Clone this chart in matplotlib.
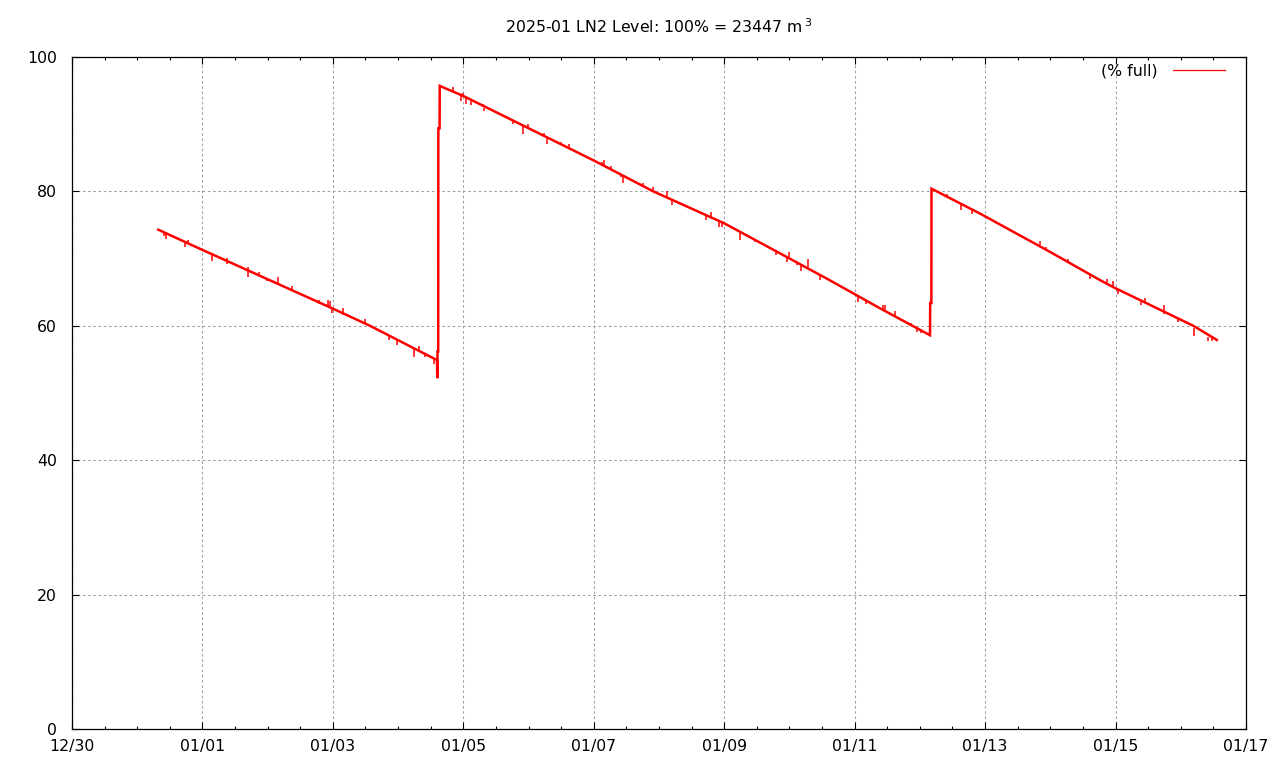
import matplotlib
matplotlib.use("Agg")
import matplotlib.pyplot as plt
from matplotlib.lines import Line2D
from matplotlib.ticker import MultipleLocator, FixedLocator, FixedFormatter

# time axis in days since 2024-12-30 00:00
tick_days = [0, 2, 4, 6, 8, 10, 12, 14, 16, 18]
tick_labels = ["12/30", "01/01", "01/03", "01/05", "01/07",
               "01/09", "01/11", "01/13", "01/15", "01/17"]

# LN2 level (% full): slow boil-off with two refills
level_days = [1.323, 1.998, 3.990, 4.569, 5.596,
              5.601, 5.604, 5.615, 5.617, 5.636, 5.638,
              6.000, 8.000, 8.913, 10.001, 11.596, 12.389, 13.155,
              13.158, 13.176, 13.178,
              13.922, 14.995, 15.762, 15.997, 17.193, 17.552]
level_pct = [74.3, 71.3, 62.6, 60.0, 54.9,
             52.2, 56.2, 56.2, 89.4, 89.4, 95.7,
             94.2, 84.6, 80.0, 75.25, 66.9, 62.6, 58.6,
             63.4, 63.4, 80.4,
             76.7, 71.0, 66.8, 65.6, 60.0, 57.9]

# short glitches in the readings: time, lowest and highest value
glitch_days = [1.415, 1.446, 1.737, 1.783, 2.151, 2.372, 2.703, 2.872, 2.995,
               3.163, 3.369, 3.792, 3.921, 3.951, 3.991, 4.160, 4.497, 4.865,
               4.988, 5.248, 5.325, 5.417, 5.550,
               5.834, 5.957, 6.000, 6.036, 6.125, 6.297, 6.322, 6.757, 6.920,
               6.996, 7.242, 7.288, 7.498, 7.625, 8.122, 8.161, 8.260, 8.418,
               8.453, 8.750, 8.913, 9.128, 9.204, 9.716, 9.793, 9.920, 9.962,
               10.242, 10.472, 10.794, 10.958, 10.994, 11.121, 11.173, 11.290,
               11.469, 12.052, 12.174, 12.430, 12.461, 12.623, 12.864, 12.952,
               13.013,
               13.421, 13.626, 13.795, 14.842, 14.934, 15.271, 15.609, 15.874,
               15.966, 16.043, 16.386, 16.457, 16.748, 16.963, 17.208, 17.423,
               17.475]
glitch_lo = [73.3, 72.9, 71.8, 72.2, 69.7, 69.2, 67.3, 67.5, 66.6,
             66.1, 65.3, 63.3, 63.0, 62.9, 61.9, 61.6, 60.3, 57.9,
             57.1, 55.3, 56.3, 55.3, 54.3,
             94.8, 93.4, 94.2, 93.0, 92.8, 92.6, 92.0, 90.0, 88.6,
             89.5, 88.3, 87.1, 86.9, 86.4, 84.0, 83.8, 83.3, 82.1,
             81.3, 80.9, 80.0, 79.0, 78.0, 75.7, 76.1, 74.7, 74.75,
             72.8, 72.4, 70.5, 69.5, 70.2, 69.05, 68.2, 68.8,
             66.8, 63.6, 63.2, 62.4, 62.3, 61.4, 60.0, 59.1,
             59.0,
             79.0, 77.3, 76.6, 72.0, 71.2, 69.3, 67.0, 66.2,
             65.9, 64.8, 63.1, 63.5, 61.8, 60.6, 58.5, 57.8,
             57.8]
glitch_hi = [74.0, 73.9, 72.6, 72.7, 70.8, 70.1, 68.75, 68.0, 67.1,
             67.3, 65.9, 63.9, 63.8, 63.7, 62.6, 62.6, 61.0, 58.5,
             57.9, 56.6, 57.0, 55.9, 55.0,
             95.6, 94.2, 94.6, 94.0, 93.5, 93.0, 92.4, 90.5, 89.8,
             90.0, 88.7, 88.0, 87.4, 87.1, 84.4, 84.6, 83.8, 82.6,
             82.4, 81.3, 80.6, 80.06, 78.7, 76.5, 76.9, 75.5, 75.4,
             73.8, 72.9, 71.3, 70.3, 71.0, 69.5, 69.1, 69.9,
             67.6, 64.4, 63.8, 63.1, 63.1, 62.2, 60.4, 59.7,
             59.4,
             79.6, 78.0, 77.2, 72.6, 71.8, 69.9, 67.5, 66.9,
             66.6, 65.4, 63.7, 64.2, 63.1, 61.2, 59.6, 58.4,
             58.3]

plt.rcParams["font.family"] = ["DejaVu Sans"]
plt.rcParams["font.size"] = 11.3

fig = plt.figure(figsize=(12.8, 7.68), dpi=100)
ax = fig.add_axes([72 / 1280, 39 / 768, 1174 / 1280, 672 / 768])

ax.plot(level_days, level_pct, color="#ff0000", lw=1.8, zorder=3,
        solid_joinstyle="miter")
ax.vlines(glitch_days, glitch_lo, glitch_hi, color="#ff0000", lw=1.1, zorder=3)

ax.set_xlim(0, 18)
ax.set_ylim(0, 100)
ax.xaxis.set_major_locator(FixedLocator(tick_days))
ax.xaxis.set_major_formatter(FixedFormatter(tick_labels))
ax.xaxis.set_minor_locator(MultipleLocator(0.5))
ax.yaxis.set_major_locator(MultipleLocator(20))

ax.tick_params(which="both", direction="in", top=True, right=True,
               color="black", width=0.8, labelsize=11.3)
ax.tick_params(which="major", length=5)
ax.tick_params(which="minor", length=2.5)
ax.tick_params(axis="x", pad=7)
ax.tick_params(axis="y", pad=11)

ax.grid(True, which="major", color="#a0a0a0", lw=0.75, ls=(0, (2.5, 2.5)))
for s in ax.spines.values():
    s.set_linewidth(0.9)

ax.set_title("2025-01 LN2 Level: 100% = 23447 m$^{\\,3}$", pad=17, fontsize=11.3)

# legend sample is a plain thin line, as in the original
handle = Line2D([], [], color="#ff0000", lw=0.9)
ax.legend([handle], ["(% full)"], loc="upper right", frameon=False,
          markerfirst=False, handlelength=3.3, handletextpad=1.0,
          borderaxespad=0, bbox_to_anchor=(0.9872, 1.0))

fig.savefig("out.png", dpi=100)
